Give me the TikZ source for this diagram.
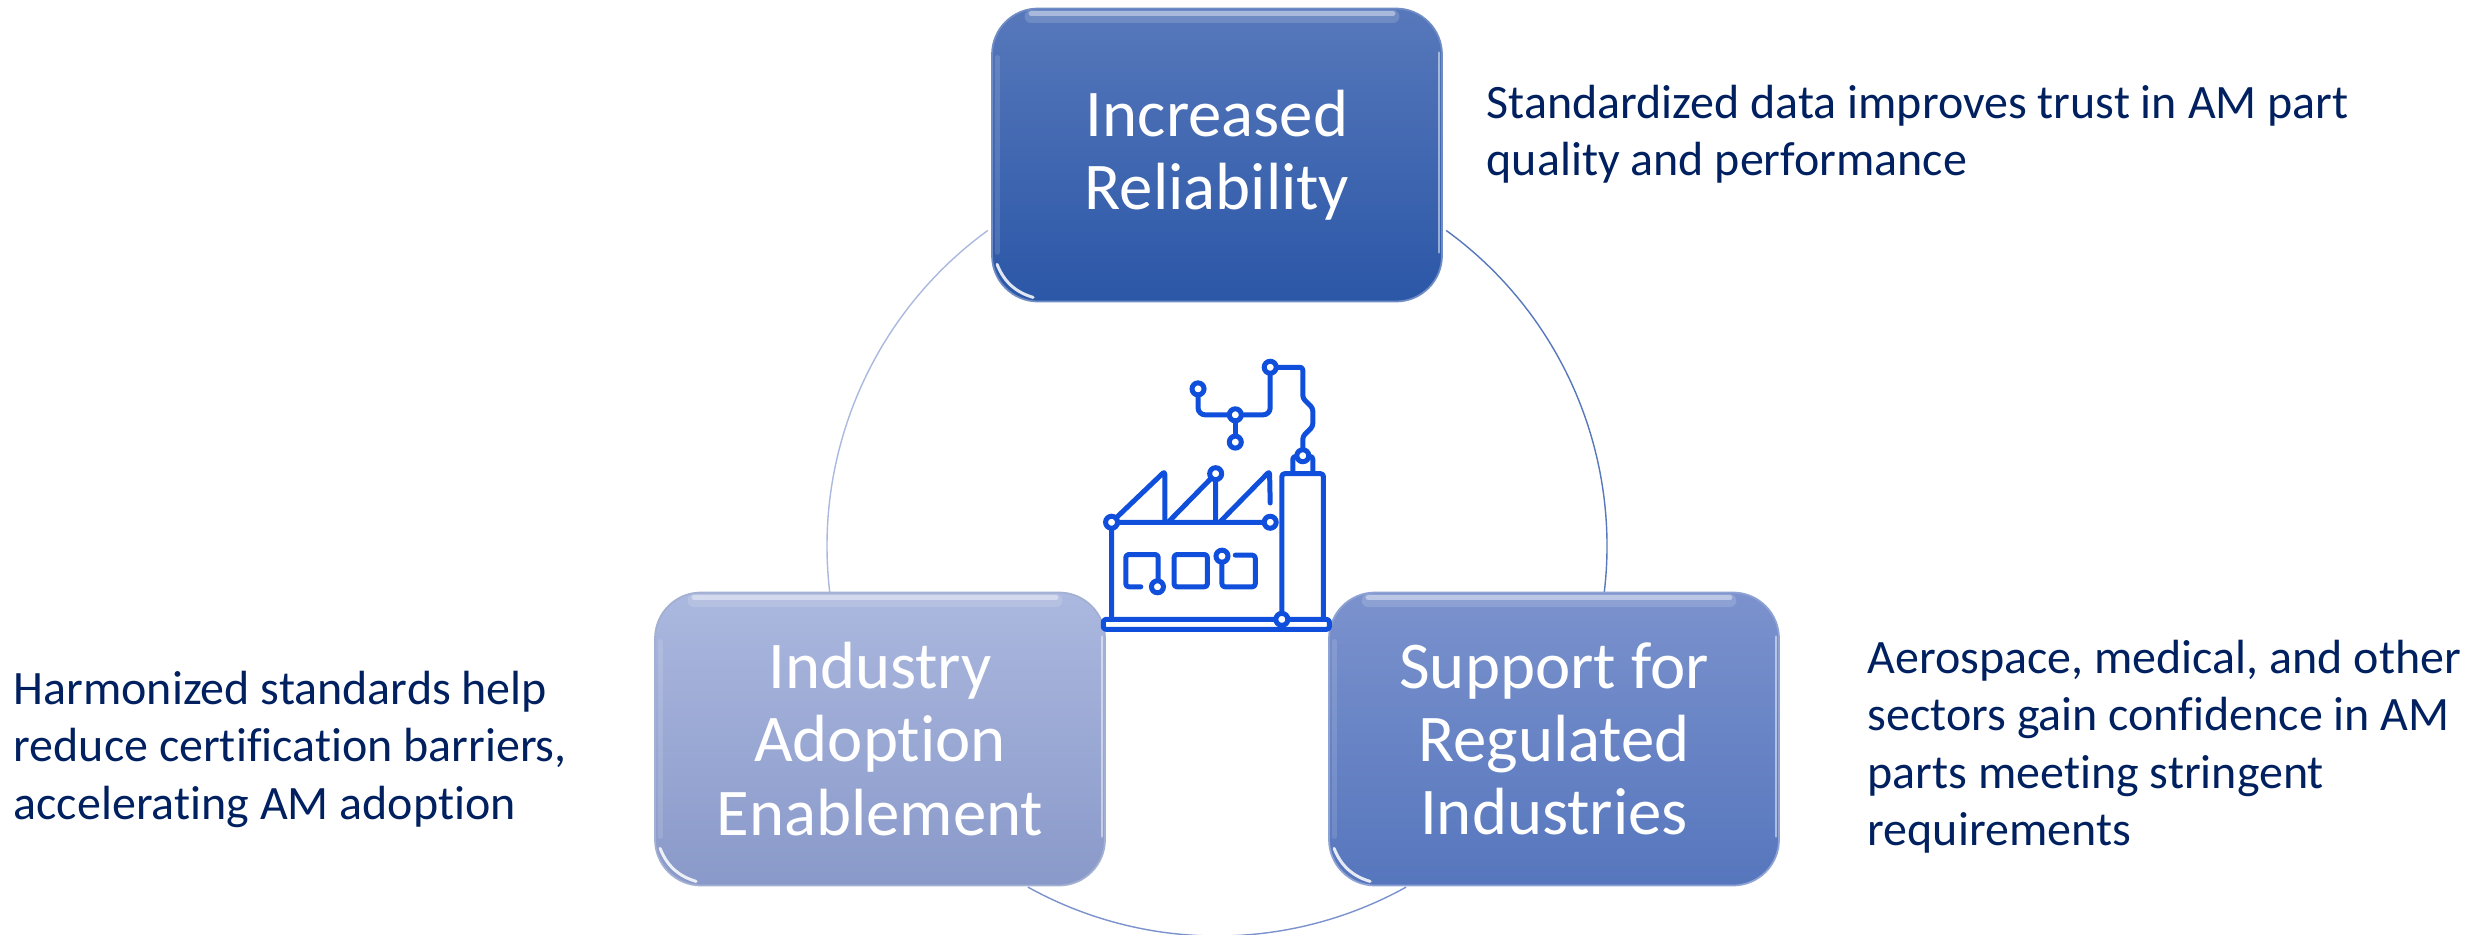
\documentclass[tikz,border=0pt]{standalone}
\usepackage{fontspec}
\setmainfont[Ligatures=NoCommon]{Carlito}
\usepackage{tikz}
\usetikzlibrary{backgrounds}
\definecolor{noteblue}{HTML}{002060}
\definecolor{iconblue}{HTML}{0F4FDC}
\tikzset{
  rimbox/.style={rectangle,rounded corners=0.46cm,minimum width=4.5cm,minimum height=2.93cm,inner sep=0pt,
    align=center,text=white,font=\fontsize{19}{20.8}\selectfont},
  relfill/.style={top color=relT,bottom color=relB,draw=relT!85!white,line width=0.5pt},
  regfill/.style={top color=regT,bottom color=regB,draw=regT!85!white,line width=0.5pt},
  adofill/.style={top color=adoT,bottom color=adoB,draw=adoT!85!gray,line width=0.5pt},
  note/.style={anchor=north west,inner sep=0pt,align=left,text=noteblue,font=\fontsize{13.65}{16.4}\selectfont},
  ring/.style={line width=0.4pt},
  gloss/.style={white,line cap=round},
  iconline/.style={draw=iconblue,line width=0.05cm,line cap=round,line join=round,rounded corners=0.8pt},
  icondot/.style={draw=iconblue,fill=white,line width=0.05cm}
}
\definecolor{relT}{HTML}{5778BB}
\definecolor{relB}{HTML}{2B57A7}
\definecolor{regT}{HTML}{7B92CD}
\definecolor{regB}{HTML}{5676BD}
\definecolor{adoT}{HTML}{ABB8DF}
\definecolor{adoB}{HTML}{8999C9}
\begin{document}
\begin{tikzpicture}
\useasboundingbox (0,0) rectangle (24.74,9.34);
\coordinate (hub) at (12.17,3.88);
% ring behind the boxes
\draw[ring,color=adoT] ([shift={(126:3.9)}]hub) arc[start angle=126,end angle=187,radius=3.9];
\draw[ring,color=relT] ([shift={(54:3.9)}]hub) arc[start angle=54,end angle=-7,radius=3.9];
\draw[ring,color=regT] ([shift={(241:3.9)}]hub) arc[start angle=241,end angle=299,radius=3.9];
% boxes
\node[rimbox,relfill] (relbox) at (12.17,7.79) {Increased\\Reliability};
\node[rimbox,regfill] (regbox) at (15.54,1.95) {Support for\\Regulated\\Industries};
\node[rimbox,adofill] (adobox) at (8.80,1.95) {Industry\\Adoption\\Enablement};
\foreach \boxname in {relbox,regbox,adobox}{
  \draw[gloss,opacity=0.15,line width=0.13cm] ([xshift=0.4cm,yshift=-0.09cm]\boxname.north west) -- ([xshift=-0.5cm,yshift=-0.09cm]\boxname.north east);
  \draw[gloss,opacity=0.4,line width=0.05cm] ([xshift=0.4cm,yshift=-0.06cm]\boxname.north west) -- ([xshift=-0.5cm,yshift=-0.06cm]\boxname.north east);
  \draw[gloss,opacity=0.5,line width=0.025cm] ([xshift=-0.04cm,yshift=-0.45cm]\boxname.north east) -- ([xshift=-0.04cm,yshift=0.5cm]\boxname.south east);
  \draw[gloss,opacity=0.12,line width=0.05cm] ([xshift=0.06cm,yshift=-0.5cm]\boxname.north west) -- ([xshift=0.06cm,yshift=0.5cm]\boxname.south west);
  \draw[gloss,opacity=0.85,line width=0.03cm] ([xshift=0.06cm,yshift=0.38cm]\boxname.south west) .. controls ([xshift=0.13cm,yshift=0.2cm]\boxname.south west) and ([xshift=0.25cm,yshift=0.1cm]\boxname.south west) .. ([xshift=0.42cm,yshift=0.05cm]\boxname.south west);
}
% notes
\node[note] (relnote) at (14.86,8.50) {Standardized data improves trust in AM part\\quality and performance};
\node[note] (regnote) at (18.67,2.95) {Aerospace, medical, and other\\sectors gain confidence in AM\\parts meeting stringent\\requirements};
\node[note] (adonote) at (0.13,2.64) {Harmonized standards help\\reduce certification barriers,\\accelerating AM adoption};
% factory icon
\begin{scope}[shift={(10.60,6.04)},x=0.003333cm,y=-0.003333cm]
\draw[iconline] (130,885) -- (130,870) -- (810,870) -- (810,900) -- (130,900) -- cycle;
\draw[iconline] (155,870) -- (155,578) -- (632,578);
\draw[iconline] (667,870) -- (667,432) -- (792,432) -- (792,870);
\draw[iconline] (700,430) -- (700,380) -- (760,380) -- (760,430);
\draw[iconline] (155,578) -- (315,425) -- (315,578);
\draw[iconline] (325,578) -- (468,432) -- (468,578);
\draw[iconline] (480,578) -- (630,425) -- (632,520);
\draw[iconline] (243,772) -- (198,772) -- (198,675) -- (295,675) -- (295,772);
\draw[iconline] (343,675) rectangle (443,772);
\draw[iconline] (487,680) -- (487,772) -- (587,772) -- (587,677) -- (527,677);
\draw[iconline,rounded corners=2pt] (415,177) -- (415,255) -- (632,255) -- (632,112);
\draw[iconline] (527,255) -- (527,337);
\draw[iconline] (632,112) -- (730,112) -- (730,205) -- (760,235) -- (760,290) -- (730,320) -- (730,378);
\foreach \spot in {(415,177),(527,255),(527,337),(632,112),(730,378),(155,578),(632,578),(468,432),(293,772),(487,680),(667,870)}
  \draw[icondot] \spot circle[radius=0.06cm];
\end{scope}
\end{tikzpicture}
\end{document}
